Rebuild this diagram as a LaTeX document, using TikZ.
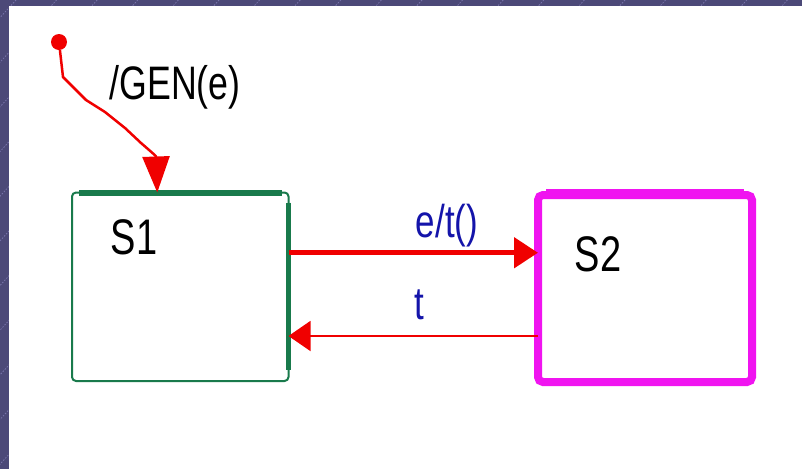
\documentclass[tikz,border=0pt]{standalone}
\usepackage{fontspec}
\setmainfont{Liberation Sans}
\usepackage{graphicx}
\usetikzlibrary{arrows.meta, calc, positioning}

\newcommand{\narrowtxt}[1]{\scalebox{0.76}[1]{#1}}

\begin{document}
\begin{tikzpicture}[x=1pt, y=-1pt,
    statebox/.style={rectangle, outer sep=0, inner sep=0},
    statetxt/.style={inner sep=0, font=\fontsize{50}{50}\selectfont},
    evtxt/.style={inner sep=0, text=evblue, font=\fontsize{46}{46}\selectfont},
    bgline/.style={line width=0.8, bglinecol, dash pattern=on 1.5 off 1.5}]

    % Colours for frame, states and labels
    \definecolor{bgpurple}{RGB}{76, 73, 120}
    \definecolor{bglinecol}{RGB}{120, 116, 170}
    \definecolor{stategreen}{RGB}{25, 122, 76}
    \definecolor{statemagenta}{RGB}{240, 20, 240}
    \definecolor{transred}{RGB}{240, 0, 0}
    \definecolor{evblue}{RGB}{20, 20, 170}

    \useasboundingbox (0,0) rectangle (802,469);

    % 1. Frame background with faint diagonal stripes
    \fill[bgpurple] (0,0) rectangle (802,469);
    \begin{scope}
        \clip (0,0) rectangle (802,469);
        \foreach \k in {-5,...,15}
            \draw[bgline] ({625-40.6*\k},0) -- ++(-500,550);
    \end{scope}
    \fill[white] (9,6) rectangle (812,480);

    % 2. States S1 and S2
    \node[statebox, draw=stategreen, line width=2, rounded corners=4,
          minimum width=216.5, minimum height=188.5] (S1) at (180.25,286.75) {};
    \draw[stategreen, line width=6] ([xshift=7]S1.north west) -- ([xshift=-7]S1.north east);
    \draw[stategreen, line width=5.5] ([yshift=-10]S1.north east) -- ([yshift=11]S1.south east);

    \node[statebox, draw=statemagenta, line width=8, rounded corners=5,
          minimum width=214, minimum height=187] (S2) at (645,288.5) {};
    \draw[statemagenta, line width=10] ([xshift=8,yshift=1]S2.north west) -- ([xshift=-8,yshift=1]S2.north east);

    \node[statetxt] (S1lbl) at (134,237) {\narrowtxt{S1}};
    \node[statetxt] (S2lbl) at (598,254) {\narrowtxt{S2}};

    % 3. Initial transition
    \node[circle, fill=transred, inner sep=0, minimum size=16] (init) at (59,42) {};
    \coordinate (S1in) at ([xshift=-23]S1.north);
    \draw[transred, line width=2.5, -{Triangle[length=36pt, width=27pt]}]
        (init) -- (63,77) -- (74,88) -- (86,100) -- (105,112) -- (125,128)
        -- (141,143) .. controls (156,156) .. (S1in);
    \node[inner sep=0, font=\fontsize{47}{47}\selectfont] (gen) at (175,87) {\narrowtxt{/GEN(e)}};

    % 4. Transitions between the states
    \draw[transred, line width=5, -{Triangle[length=24pt, width=30pt]}]
        ([yshift=34]S1.east) -- ([yshift=34]S1.east -| S2.west);
    \node[evtxt] (etlbl) at (447,226) {\narrowtxt{e/t()}};

    \draw[transred, line width=1.5, -{Triangle[length=22pt, width=30pt]}]
        ([yshift=-47.5]S2.west) -- ([yshift=-47.5]S2.west -| S1.east);
    \node[evtxt] (tlbl) at (419,305) {\narrowtxt{t}};
\end{tikzpicture}
\end{document}
